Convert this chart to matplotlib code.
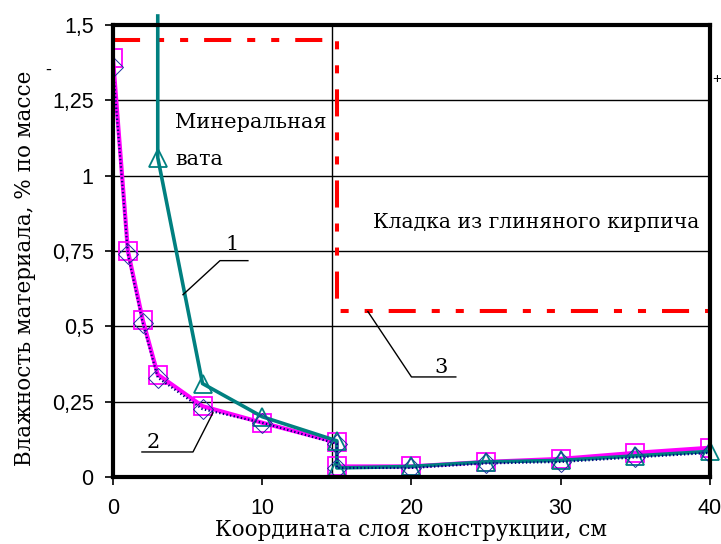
import matplotlib
matplotlib.use('Agg')
import matplotlib.pyplot as plt

# layer coordinate, cm
x_main = [0, 1, 2, 3, 6, 10, 15, 15, 20, 25, 30, 35, 40]
x_wool = [3, 3, 6, 10, 15, 15, 20, 25, 30, 35, 40]
x_limit = [0, 15, 15, 40]

# moisture, % by mass
y_magenta = [1.39, 0.75, 0.52, 0.34, 0.235, 0.18, 0.115, 0.035, 0.035, 0.05, 0.06, 0.08, 0.097]
y_navy = [1.36, 0.74, 0.51, 0.33, 0.225, 0.18, 0.11, 0.03, 0.03, 0.045, 0.05, 0.065, 0.08]
y_teal = [1.53, 1.06, 0.31, 0.2, 0.12, 0.03, 0.035, 0.05, 0.055, 0.07, 0.085]
y_limit = [1.45, 1.45, 0.55, 0.55]

x_ticks = [0, 10, 20, 30, 40]
y_ticks = [0, 0.25, 0.5, 0.75, 1, 1.25, 1.5]
y_ticklabels = ['0', '0,25', '0,5', '0,75', '1', '1,25', '1,5']

plt.rcParams['lines.scale_dashes'] = False
serif = ['DejaVu Serif']
sans = ['Liberation Sans', 'DejaVu Sans']

fig = plt.figure(figsize=(7.21, 5.44), dpi=100)
ax = fig.add_axes([0.1567, 0.1232, 0.8280, 0.8308])
ax.set_xlim(0, 40)
ax.set_ylim(0, 1.5)

for yv in y_ticks[1:-1]:
    ax.axhline(yv, color='black', lw=1.0, zorder=1)
ax.axvline(14.7, color='black', lw=1.0, zorder=1)

ax.plot(x_limit, y_limit, color='#ff0000', lw=2.9, solid_capstyle='butt',
        dash_capstyle='butt', linestyle=(0, (19.5, 11.5, 5.8, 11.5, 5.8, 11.5)), zorder=2)

ax.plot(x_main, y_magenta, color='#ff00ff', lw=3.0, marker='s', markersize=13,
        markerfacecolor='none', markeredgecolor='#ff00ff', markeredgewidth=1.3, zorder=3)
ax.plot(x_wool, y_teal, color='#008080', lw=2.6, marker='^', markersize=13,
        markerfacecolor='none', markeredgecolor='#008080', markeredgewidth=1.3,
        markevery=list(range(1, len(x_wool))), clip_on=False, zorder=4)
ax.plot(x_main, y_navy, color='#000080', lw=1.6, linestyle=':', marker='D', markersize=10,
        markerfacecolor='none', markeredgecolor='#2030a0', markeredgewidth=0.7, zorder=5)

for s in ax.spines.values():
    s.set_linewidth(3.0)
    s.set_zorder(6)

ax.set_xticks(x_ticks)
ax.set_yticks(y_ticks)
ax.set_yticklabels(y_ticklabels)
ax.tick_params(direction='out', length=6, width=1.2, labelsize=15.5)
ax.tick_params(axis='y', pad=8)
ax.tick_params(axis='x', pad=9)
for lab in ax.get_xticklabels() + ax.get_yticklabels():
    lab.set_family(sans)

ax.set_xlabel('Координата слоя конструкции, см', family=serif, fontsize=15.5)
ax.xaxis.set_label_coords(0.5, -0.093, transform=ax.transAxes)
ax.xaxis.label.set_va('top')
ax.set_ylabel('Влажность материала, % по массе', family=serif, fontsize=15.5)
ax.yaxis.set_label_coords(-0.147, 0.462)
ax.yaxis.label.set_va('center')

ax.text(4.15, 1.177, 'Минеральная', family=serif, fontsize=15, va='center', ha='left')
ax.text(4.15, 1.054, 'вата', family=serif, fontsize=15, va='center', ha='left')
ax.text(17.41, 0.844, 'Кладка из глиняного кирпича', family=serif, fontsize=14.6,
        va='center', ha='left')

# curve callouts
ax.plot([4.69, 7.17, 9.04], [0.605, 0.718, 0.718], color='black', lw=1.0, zorder=5)
ax.text(7.97, 0.771, '1', family=serif, fontsize=15, ha='center', va='center')
ax.plot([1.94, 5.36, 6.70], [0.083, 0.083, 0.213], color='black', lw=1.0, zorder=5)
ax.text(2.68, 0.116, '2', family=serif, fontsize=15, ha='center', va='center')
ax.plot([17.08, 20.0, 22.97], [0.549, 0.332, 0.332], color='black', lw=1.0, zorder=5)
ax.text(22.0, 0.362, '3', family=serif, fontsize=15, ha='center', va='center')

fig.text(48 / 721, 1 - 70 / 544, '-', family=sans, fontsize=13, ha='center', va='center')
fig.text(717 / 721, 1 - 79 / 544, '+', family=sans, fontsize=11, ha='center', va='center')

fig.savefig('out.png', dpi=100)
